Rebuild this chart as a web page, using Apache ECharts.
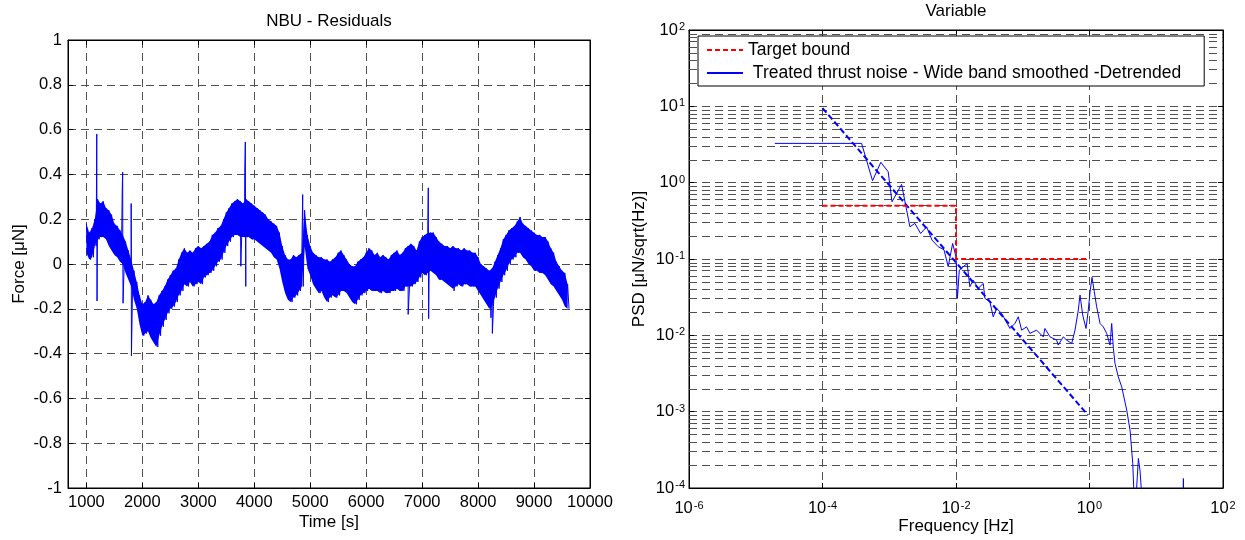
<!DOCTYPE html>
<html>
<head>
<meta charset="utf-8">
<title>NBU - Residuals / Variable</title>
<script src="https://cdn.jsdelivr.net/npm/echarts@6/dist/echarts.min.js"></script>
<style>
  html, body { margin: 0; padding: 0; background: #fff; }
  #chart { width: 1245px; height: 540px; }
</style>
</head>
<body>
<div id="chart"></div>
<script>
// ---- left panel: residual force, band edges read every 50 s from 1000 s ----
var bandStart = 1000;
var bandStep = 50;
var bandUpper = [
  0.18, 0.14, 0.16, 0.20, 0.29, 0.27, 0.28, 0.25, 0.24, 0.22,
  0.18, 0.17, 0.15, 0.13, 0.10, 0.06, 0.02, -0.03, -0.08, -0.14,
  -0.18, -0.17, -0.14, -0.16, -0.18, -0.17, -0.14, -0.12, -0.10, -0.07,
  -0.05, -0.03, -0.02, 0.02, 0.05, 0.07, 0.05, 0.06, 0.05, 0.07,
  0.08, 0.07, 0.08, 0.09, 0.10, 0.13, 0.14, 0.16, 0.17, 0.20,
  0.23, 0.25, 0.27, 0.28, 0.29, 0.28, 0.27, 0.29, 0.28, 0.27,
  0.26, 0.25, 0.24, 0.23, 0.22, 0.20, 0.19, 0.18, 0.17, 0.14,
  0.08, 0.04, 0.02, 0.02, 0.04, 0.03, 0.04, 0.05, 0.24, 0.13,
  0.08, 0.05, 0.04, 0.03, 0.03, 0.02, 0.02, 0.01, 0.02, 0.03,
  0.05, 0.06, 0.04, 0.02, 0.00, -0.01, -0.01, 0.01, 0.02, 0.03,
  0.05, 0.07, 0.06, 0.04, 0.05, 0.03, 0.04, 0.03, 0.02, 0.04,
  0.05, 0.06, 0.04, 0.05, 0.07, 0.08, 0.09, 0.08, 0.06, 0.10,
  0.12, 0.13, 0.14, 0.14, 0.14, 0.12, 0.10, 0.09, 0.08, 0.08,
  0.07, 0.08, 0.07, 0.07, 0.06, 0.07, 0.06, 0.06, 0.05, 0.05,
  0.03, 0.00, -0.01, -0.02, -0.03, -0.02, 0.01, 0.04, 0.07, 0.11,
  0.13, 0.15, 0.16, 0.17, 0.19, 0.21, 0.18, 0.17, 0.16, 0.15,
  0.14, 0.13, 0.13, 0.12, 0.12, 0.10, 0.07, 0.05, 0.01, -0.01,
  -0.03, -0.04, -0.09
];
var bandLower = [
  0.05, 0.02, 0.03, 0.08, 0.11, 0.12, 0.12, 0.11, 0.08, 0.06,
  0.04, 0.03, 0.01, 0.00, -0.04, -0.07, -0.10, -0.16, -0.20, -0.27,
  -0.32, -0.31, -0.30, -0.33, -0.35, -0.37, -0.32, -0.28, -0.25, -0.22,
  -0.20, -0.19, -0.17, -0.14, -0.12, -0.09, -0.10, -0.08, -0.10, -0.09,
  -0.08, -0.09, -0.06, -0.05, -0.04, -0.03, -0.01, 0.01, 0.02, 0.05,
  0.08, 0.10, 0.12, 0.13, 0.13, 0.12, 0.12, 0.12, 0.12, 0.11,
  0.11, 0.10, 0.09, 0.08, 0.07, 0.06, 0.05, 0.03, 0.02, -0.02,
  -0.08, -0.13, -0.16, -0.17, -0.15, -0.14, -0.12, -0.10, 0.08, -0.02,
  -0.05, -0.09, -0.11, -0.13, -0.12, -0.15, -0.17, -0.15, -0.14, -0.15,
  -0.14, -0.12, -0.12, -0.13, -0.15, -0.17, -0.18, -0.16, -0.14, -0.13,
  -0.12, -0.11, -0.12, -0.12, -0.12, -0.13, -0.12, -0.13, -0.13, -0.12,
  -0.12, -0.11, -0.12, -0.12, -0.10, -0.10, -0.10, -0.09, -0.08, -0.06,
  -0.04, -0.05, -0.04, -0.03, -0.04, -0.05, -0.07, -0.07, -0.08, -0.09,
  -0.10, -0.11, -0.10, -0.09, -0.10, -0.09, -0.09, -0.10, -0.10, -0.10,
  -0.12, -0.14, -0.16, -0.18, -0.20, -0.19, -0.15, -0.11, -0.08, -0.05,
  -0.03, 0.00, 0.02, 0.03, 0.05, 0.05, 0.03, 0.02, 0.00, -0.01,
  -0.03, -0.03, -0.04, -0.04, -0.05, -0.07, -0.09, -0.10, -0.12, -0.14,
  -0.16, -0.19, -0.20
];
// single-sample spikes
var spikeTimes  = [1185, 1190, 1640, 1648, 1655, 1800, 1805, 3760, 3830, 3840, 3848, 4865, 6750, 7110, 7116, 7570, 8230, 8255];
var spikeValues = [0.58, -0.165, 0.33, 0.41, -0.175, 0.27, -0.41, -0.01, 0.41, 0.545, -0.10, 0.31, -0.225, 0.34, -0.244, -0.12, -0.24, -0.31];

var timeTicks = [1000, 2000, 3000, 4000, 5000, 6000, 7000, 8000, 9000, 10000];

// ---- right panel: PSD, log-log ----
var psdFreq = [
  1.93e-5, 3.85e-4, 5.62e-4, 7.48e-4, 9.64e-4, 1.10e-3, 1.53e-3, 2.04e-3, 2.42e-3, 2.95e-3,
  3.63e-3, 4.37e-3, 5.41e-3, 6.61e-3, 7.64e-3, 8.91e-3, 1.00e-2, 1.05e-2, 1.12e-2, 1.28e-2,
  1.47e-2, 1.61e-2, 1.81e-2, 2.15e-2, 2.56e-2, 2.71e-2, 3.22e-2, 3.61e-2, 4.06e-2, 4.83e-2,
  6.43e-2, 7.64e-2, 8.57e-2, 9.64e-2, 0.114, 0.128, 0.161, 0.203, 0.215, 0.256,
  0.322, 0.340, 0.405, 0.455, 0.541, 0.607, 0.679, 0.721, 0.791, 0.887,
  0.959, 1.02, 1.09, 1.18, 1.28, 1.44, 1.61, 1.81, 2.03, 2.15,
  2.28, 2.41, 2.70, 3.04, 3.61, 4.05, 4.45, 4.65, 5.00, 5.40,
  5.71, 6.07, 25.1, 25.5, 25.8
];
var psdValue = [
  3.27, 3.27, 1.06, 1.85, 1.39, 0.562, 0.95, 0.264, 0.293, 0.216,
  0.264, 0.177, 0.145, 0.132, 0.0794, 0.16, 0.107, 0.0305, 0.0714, 0.0791,
  0.0875, 0.0433, 0.0528, 0.0412, 0.0479, 0.0305, 0.0275, 0.0175, 0.0225, 0.0194,
  0.0123, 0.0143, 0.0175, 0.0117, 0.0129, 0.0106, 0.0117, 0.00955, 0.0123, 0.00955,
  0.00865, 0.00745, 0.00955, 0.00865, 0.00783, 0.0117, 0.0214, 0.0337, 0.0184, 0.0123,
  0.0214, 0.0372, 0.0574, 0.0372, 0.0237, 0.0143, 0.0129, 0.0106, 0.00745, 0.0143,
  0.00673, 0.00429, 0.00286, 0.00211, 0.00105, 5.73e-4, 2.09e-4, 7.9e-5, 7.9e-5, 2.44e-4,
  1.7e-4, 7.9e-5, 6.3e-5, 1.33e-4, 6.3e-5
];
var targetFreq = [1e-4, 1e-2, 1e-2, 1];
var targetValue = [0.5, 0.5, 0.1, 0.1];
var fitFreq = [1e-4, 0.95];
var fitValue = [9.5, 9e-4];

var decades = [-4, -3, -2, -1, 0, 1];
var minorFactors = [2, 3, 4, 5, 6, 7, 8, 9];

var FONT = 'Liberation Sans';
var GRID_COLOR = '#505050';
var BLUE = '#0000ff';

// ---- build ----
var residualData = [];
var bandRows = [];
for (var i = 0; i < bandUpper.length; i++) {
  var t = bandStart + i * bandStep;
  residualData.push([t, bandUpper[i]]);
  residualData.push([t + bandStep / 2, bandLower[i]]);
  bandRows.push([t, bandUpper[i], bandLower[i]]);
}
for (var j = 0; j < spikeTimes.length; j++) {
  residualData.push([spikeTimes[j], spikeValues[j]]);
}
residualData.sort(function (a, b) { return a[0] - b[0]; });

function logPairs(xs, ys) {
  return xs.map(function (x, k) { return [Math.log10(x), Math.log10(ys[k])]; });
}

var minorLevels = [];
decades.forEach(function (d) {
  minorFactors.forEach(function (k) { minorLevels.push(d + Math.log10(k)); });
});

// the noise band, filled between its upper and lower edge (drawn once, on the last item)
function renderBand(params, api) {
  if (params.dataIndex !== bandRows.length - 1) return;
  var top = [], bottom = [];
  for (var k = 0; k < bandRows.length; k++) {
    top.push(api.coord([bandRows[k][0], bandRows[k][1]]));
    bottom.push(api.coord([bandRows[k][0], bandRows[k][2]]));
  }
  return {
    type: 'polygon',
    shape: { points: top.concat(bottom.reverse()) },
    style: { fill: BLUE, stroke: null },
    silent: true
  };
}

var tickFont = { fontFamily: FONT, fontSize: 16.5, color: '#000' };
var nameFont = { fontFamily: FONT, fontSize: 17, color: '#000' };
var gridLine = { show: true, lineStyle: { color: GRID_COLOR, type: [8, 5], width: 1 } };
var blackLine = { show: true, onZero: false, lineStyle: { color: '#000', width: 1 } };
var innerTick = { show: true, inside: true, length: 5, lineStyle: { color: '#000' } };

function powRich(margin) {
  return {
    margin: margin,
    formatter: function (v) { return '{b|10}{s|' + Math.round(v) + '}'; },
    rich: {
      b: { fontFamily: FONT, fontSize: 16.5, color: '#000', lineHeight: 17, padding: [8, 0, 8, 0] },
      s: { fontFamily: FONT, fontSize: 11, color: '#000', lineHeight: 12, verticalAlign: 'top', padding: [0, 0, 0, 1] }
    }
  };
}

var option = {
  backgroundColor: '#fff',
  animation: false,
  textStyle: { fontFamily: FONT },
  grid: [
    { left: 68, top: 40, width: 522, height: 448, show: true, borderColor: '#000', borderWidth: 1, outerBoundsMode: 'none' },
    { left: 689, top: 30, width: 534, height: 458, show: true, borderColor: '#000', borderWidth: 1, outerBoundsMode: 'none' }
  ],
  legend: {
    data: ['Target bound', ' Treated thrust noise - Wide band smoothed -Detrended'],
    orient: 'vertical',
    left: 698,
    top: 36,
    padding: [5, 23, 4, 8],
    itemWidth: 36,
    itemHeight: 14,
    itemGap: 5,
    backgroundColor: '#fff',
    borderColor: '#000',
    borderWidth: 1,
    borderRadius: 0,
    itemStyle: { opacity: 0 },
    textStyle: { fontFamily: FONT, fontSize: 17.5, color: '#000' },
    selectedMode: false
  },
  xAxis: [
    {
      type: 'value', gridIndex: 0, min: 671, max: 10000,
      name: 'Time [s]', nameLocation: 'middle', nameGap: 26, nameMoveOverlap: false, nameTextStyle: nameFont,
      axisLine: blackLine,
      axisTick: { show: true, inside: true, length: 5, lineStyle: { color: '#000' }, customValues: timeTicks },
      axisLabel: Object.assign({
        margin: 6, customValues: timeTicks,
        formatter: function (v) { return String(v); }
      }, tickFont),
      splitLine: gridLine
    },
    {
      type: 'value', gridIndex: 0, position: 'top', min: 671, max: 10000,
      name: 'NBU - Residuals', nameLocation: 'middle', nameGap: 10, nameMoveOverlap: false, nameTextStyle: nameFont,
      axisLine: blackLine,
      axisTick: { show: true, inside: true, length: 5, lineStyle: { color: '#000' }, customValues: timeTicks },
      axisLabel: { show: false },
      splitLine: { show: false }
    },
    {
      type: 'value', gridIndex: 1, min: -6, max: 2, interval: 2,
      name: 'Frequency [Hz]', nameLocation: 'middle', nameGap: 30, nameMoveOverlap: false, nameTextStyle: nameFont,
      axisLine: blackLine, axisTick: innerTick,
      axisLabel: powRich(12),
      splitLine: gridLine
    },
    {
      type: 'value', gridIndex: 1, position: 'top', min: -6, max: 2, interval: 2,
      name: 'Variable', nameLocation: 'middle', nameGap: 10, nameMoveOverlap: false, nameTextStyle: nameFont,
      axisLine: blackLine, axisTick: innerTick,
      axisLabel: { show: false }, splitLine: { show: false }
    }
  ],
  yAxis: [
    {
      type: 'value', gridIndex: 0, min: -1, max: 1, interval: 0.2,
      name: 'Force [\u03bcN]', nameLocation: 'middle', nameGap: 40, nameMoveOverlap: false, nameTextStyle: nameFont,
      axisLine: blackLine, axisTick: innerTick,
      axisLabel: Object.assign({ margin: 6 }, tickFont),
      splitLine: gridLine
    },
    {
      type: 'value', gridIndex: 0, position: 'right', min: -1, max: 1, interval: 0.2,
      axisLine: blackLine, axisTick: innerTick,
      axisLabel: { show: false }, splitLine: { show: false }
    },
    {
      type: 'value', gridIndex: 1, min: -4, max: 2, interval: 1,
      name: 'PSD [\u03bcN/sqrt(Hz)]', nameLocation: 'middle', nameGap: 41, nameMoveOverlap: false, nameTextStyle: nameFont,
      axisLine: blackLine, axisTick: innerTick,
      axisLabel: powRich(4),
      splitLine: gridLine
    },
    {
      type: 'value', gridIndex: 1, position: 'right', min: -4, max: 2, interval: 1,
      axisLine: blackLine, axisTick: innerTick,
      axisLabel: { show: false }, splitLine: { show: false }
    }
  ],
  series: [
    {
      name: 'band', type: 'custom', xAxisIndex: 0, yAxisIndex: 0,
      data: bandRows, renderItem: renderBand, silent: true, z: 2
    },
    {
      name: 'residuals', type: 'line', xAxisIndex: 0, yAxisIndex: 0,
      data: residualData, showSymbol: false, symbol: 'none',
      lineStyle: { color: BLUE, width: 1 }, z: 3
    },
    {
      name: 'minor grid', type: 'line', xAxisIndex: 2, yAxisIndex: 2, data: [],
      symbol: 'none', silent: true, z: 1,
      markLine: {
        silent: true, symbol: ['none', 'none'], z: 1,
        label: { show: false },
        lineStyle: { color: GRID_COLOR, type: [8, 5], width: 1 },
        emphasis: { disabled: true },
        data: minorLevels.map(function (v) { return { yAxis: v }; })
      }
    },
    {
      name: ' Treated thrust noise - Wide band smoothed -Detrended', type: 'line',
      xAxisIndex: 2, yAxisIndex: 2, data: logPairs(psdFreq, psdValue),
      showSymbol: false, symbol: 'none', clip: true,
      lineStyle: { color: BLUE, width: 1 }, itemStyle: { color: BLUE }, z: 3
    },
    {
      name: 'fit', type: 'line', xAxisIndex: 2, yAxisIndex: 2, data: logPairs(fitFreq, fitValue),
      showSymbol: false, symbol: 'none',
      lineStyle: { color: BLUE, width: 2, type: [6, 3] }, z: 3
    },
    {
      name: 'Target bound', type: 'line', xAxisIndex: 2, yAxisIndex: 2, data: logPairs(targetFreq, targetValue),
      showSymbol: false, symbol: 'none',
      lineStyle: { color: '#ff0000', width: 2, type: [5, 3] }, itemStyle: { color: '#ff0000' }, z: 4
    }
  ]
};

var chart = echarts.init(document.getElementById('chart'), null, { renderer: 'canvas' });
chart.setOption(option);
</script>
</body>
</html>
